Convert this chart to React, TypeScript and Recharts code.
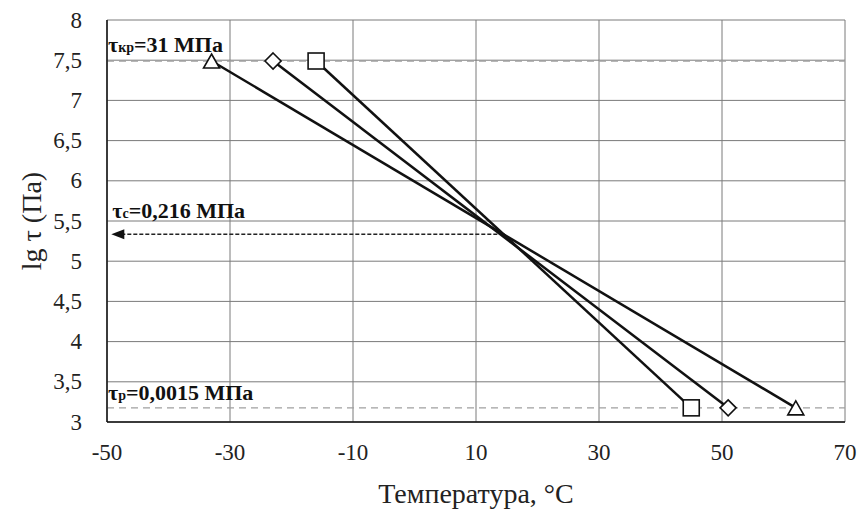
import {
  ComposedChart,
  Line,
  XAxis,
  YAxis,
  CartesianGrid,
  ReferenceLine,
} from "recharts";

// axes
const xTicks = [-50, -30, -10, 10, 30, 50, 70];
const yTicks = [3, 3.5, 4, 4.5, 5, 5.5, 6, 6.5, 7, 7.5, 8];

// lg tau at the two ends of every line
const lgTauEnds = [7.49, 3.176];
const tempTriangle = [-33, 62];
const tempDiamond = [-23, 51];
const tempSquare = [-16, 45];

// reference levels
const lgTauKr = 7.49;
const lgTauC = 5.334;
const lgTauP = 3.176;
const arrowTemps = [14.5, -49.3];

const FONT = "Liberation Serif";

const toPoints = (temps: number[]) =>
  temps.map((t, i) => ({ t, lg: lgTauEnds[i] }));

function Marker(props: any) {
  const { cx, cy, kind } = props;
  if (cx == null || cy == null) return null;
  const common = { fill: "#fff", stroke: "#111", strokeWidth: 1.6 };
  if (kind === "square")
    return <rect x={cx - 8} y={cy - 8} width={16} height={16} {...common} />;
  if (kind === "diamond")
    return (
      <path
        d={`M${cx},${cy - 8} L${cx + 8},${cy} L${cx},${cy + 8} L${cx - 8},${cy} Z`}
        {...common}
      />
    );
  return (
    <path
      d={`M${cx},${cy - 7} L${cx + 8},${cy + 7} L${cx - 8},${cy + 7} Z`}
      {...common}
    />
  );
}

function TauLabel(props: any) {
  const { viewBox, sub, rest, dy } = props;
  return (
    <text
      x={viewBox.x + 1}
      y={viewBox.y - dy}
      style={{ fontFamily: FONT, fontWeight: "bold", fontSize: 22 }}
      fill="#111"
    >
      <tspan>τ</tspan>
      <tspan style={{ fontSize: 14 }}>{sub}</tspan>
      <tspan>{rest}</tspan>
    </text>
  );
}

function AxisTitle(props: any) {
  const { x, y, rotate, value } = props;
  return (
    <text
      x={x}
      y={y}
      transform={rotate ? `rotate(-90, ${x}, ${y})` : undefined}
      textAnchor="middle"
      dominantBaseline="central"
      style={{ fontFamily: FONT, fontSize: 28 }}
      fill="#222"
    >
      {value}
    </text>
  );
}

function XTick(props: any) {
  const { x, y, payload } = props;
  return (
    <text
      x={x}
      y={y}
      textAnchor="middle"
      dominantBaseline="hanging"
      style={{ fontFamily: FONT, fontSize: 23 }}
      fill="#222"
    >
      {payload.value}
    </text>
  );
}

function YTick(props: any) {
  const { x, y, payload } = props;
  return (
    <text
      x={x}
      y={y}
      textAnchor="end"
      dominantBaseline="central"
      style={{ fontFamily: FONT, fontSize: 23 }}
      fill="#222"
    >
      {fmt(payload.value)}
    </text>
  );
}

function ArrowShape(props: any) {
  const { x1, y1, x2, y2 } = props;
  const left = Math.min(x1, x2);
  const right = Math.max(x1, x2);
  return (
    <g>
      <line
        x1={left + 10}
        y1={y1}
        x2={right}
        y2={y2}
        stroke="#222"
        strokeWidth={1.5}
        strokeDasharray="4 2"
      />
      <path
        d={`M${left},${y1} L${left + 13},${y1 - 5} L${left + 13},${y1 + 5} Z`}
        fill="#111"
      />
    </g>
  );
}

const fmt = (v: number) => String(v).replace(".", ",");

export default function App() {
  return (
    <div style={{ position: "absolute", left: 0, top: 0 }}>
      <ComposedChart
        width={865}
        height={517}
        margin={{ top: 20, right: 20, left: 0, bottom: 0 }}
      >
        <CartesianGrid stroke="#7a7a7a" strokeWidth={1} />
        <XAxis
          dataKey="t"
          type="number"
          domain={[-50, 70]}
          ticks={xTicks}
          height={95}
          tickSize={0}
          tickMargin={22}
          axisLine={{ stroke: "#111", strokeWidth: 1.5 }}
          tick={<XTick />}
          label={(p: any) => (
            <AxisTitle
              x={p.viewBox.x + p.viewBox.width / 2}
              y={493}
              value="Температура, °C"
            />
          )}
        />
        <YAxis
          type="number"
          domain={[3, 8]}
          ticks={yTicks}
          width={107}
          tickSize={0}
          tickMargin={25}
          axisLine={{ stroke: "#111", strokeWidth: 1.5 }}
          tick={<YTick />}
          label={(p: any) => (
            <AxisTitle
              x={31}
              y={p.viewBox.y + p.viewBox.height / 2}
              rotate
              value="lg τ (Па)"
            />
          )}
        />
        <ReferenceLine
          y={lgTauKr}
          stroke="#a0a0a0"
          strokeWidth={1.3}
          strokeDasharray="7 5"
          label={<TauLabel sub="кр" rest="=31 МПа" dy={9} />}
        />
        <ReferenceLine
          y={lgTauP}
          stroke="#a0a0a0"
          strokeWidth={1.3}
          strokeDasharray="7 5"
          label={<TauLabel sub="р" rest="=0,0015 МПа" dy={8} />}
        />
        <ReferenceLine
          segment={[
            { x: arrowTemps[0], y: lgTauC },
            { x: arrowTemps[1], y: lgTauC },
          ]}
          shape={<ArrowShape />}
          label={<TauLabel sub="с" rest="=0,216 МПа" dy={16} />}
        />
        <Line
          data={toPoints(tempTriangle)}
          dataKey="lg"
          type="linear"
          stroke="#111"
          strokeWidth={2.5}
          dot={(p: any) => <Marker key={`tr-${p.index}`} {...p} kind="triangle" />}
          isAnimationActive={false}
        />
        <Line
          data={toPoints(tempDiamond)}
          dataKey="lg"
          type="linear"
          stroke="#111"
          strokeWidth={2.5}
          dot={(p: any) => <Marker key={`di-${p.index}`} {...p} kind="diamond" />}
          isAnimationActive={false}
        />
        <Line
          data={toPoints(tempSquare)}
          dataKey="lg"
          type="linear"
          stroke="#111"
          strokeWidth={2.5}
          dot={(p: any) => <Marker key={`sq-${p.index}`} {...p} kind="square" />}
          isAnimationActive={false}
        />
      </ComposedChart>
    </div>
  );
}
